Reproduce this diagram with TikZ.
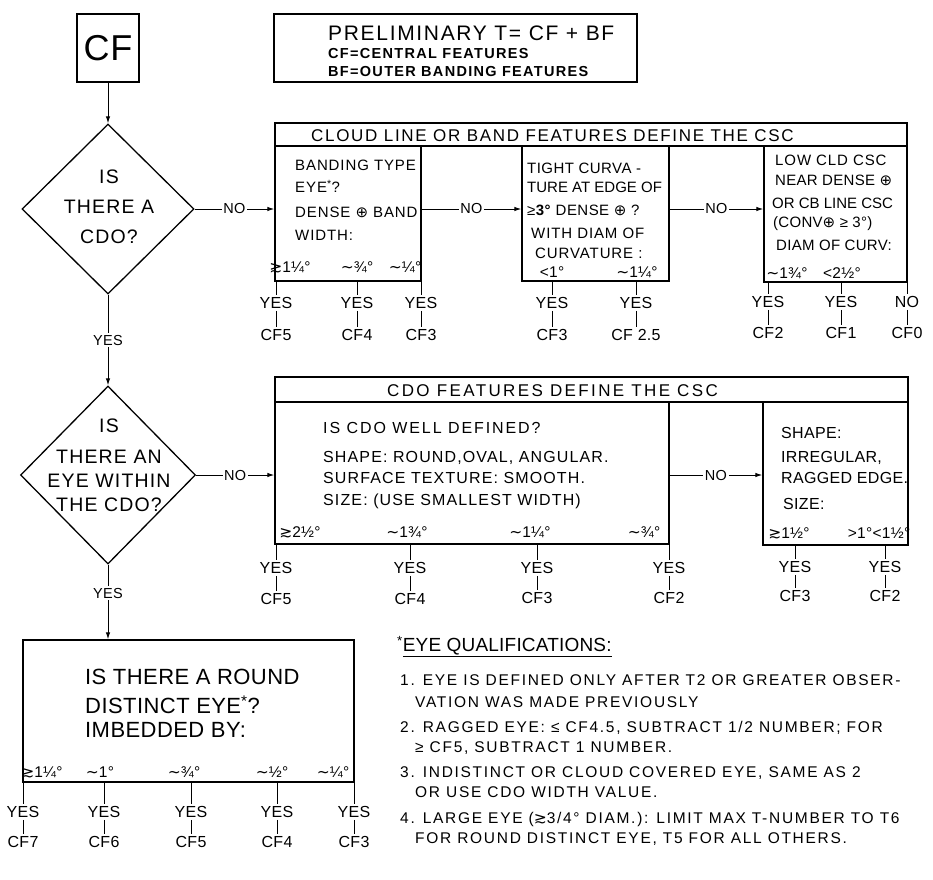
\documentclass[tikz,border=0pt]{standalone}
\usepackage{fontspec}
\setmainfont{Liberation Sans}
\newfontfamily\symf{DejaVu Sans}
\usetikzlibrary{shapes.geometric,arrows.meta}
\newcommand{\opl}{{\symf ⊕}}
\newcommand{\gsm}{{\symf ≳}}
\newcommand{\tld}{{\symf ∼}}
\newcommand{\astk}{\smash{\textsuperscript{*}}}
\newcommand{\fz}[3]{\fontsize{#1}{#2}\selectfont\addfontfeatures{LetterSpace=#3}}
\begin{document}
\begin{tikzpicture}[x=1pt,y=-1pt,
  box/.style={draw,line width=1.3,inner sep=0},
  arr/.style={line width=1,-{Latex[length=7,width=4.5]}},
  thinl/.style={line width=0.9},
  lab/.style={fill=white,inner sep=1.5,font={\fz{14.5}{14.5}{2}}},
  tx/.style={inner sep=0,anchor=west,text depth=0pt},
  ctr/.style={inner sep=0,text depth=0pt},
  bt/.style={tx,font={\fz{15}{15}{6}}},
  lb/.style={ctr,font={\fz{15.5}{15.5}{2}}},
  yn/.style={inner sep=2,text depth=0pt,font={\fz{16}{16}{2}}},
  eq/.style={tx,font={\fz{15.5}{15.5}{11}}},
]
\fill[white] (0,0) rectangle (933,879);
\useasboundingbox (0,0) rectangle (933,879);

% CF start box
\node[box,minimum width=62,minimum height=68,font={\fz{36}{36}{2}}] (cf) at (108,48) {CF};

% preliminary box
\node[box,minimum width=363,minimum height=68] (pre) at (455.5,48) {};
\node[tx,font={\fz{21}{21}{8}}] (pre1) at (328,33) {PRELIMINARY T= CF + BF};
\node[tx,font={\bfseries\fz{14.5}{14.5}{9}}] (pre2) at (328,53) {CF=CENTRAL FEATURES};
\node[tx,font={\bfseries\fz{14.5}{14.5}{9}}] (pre3) at (328,71) {BF=OUTER BANDING FEATURES};

% diamonds
\node[diamond,box,minimum width=172,minimum height=170] (d1) at (108,209) {};
\node[inner sep=0,align=center,font={\fz{19.5}{30}{6}}] (d1t) at (109,207) {IS\\THERE A\\CDO?};
\node[diamond,box,minimum width=175,minimum height=178] (d2) at (108,475) {};
\node[inner sep=0,align=center,font={\fz{19.5}{24}{6}}] (d2t) at (109,465) {IS\\[7pt]THERE AN\\EYE WITHIN\\THE CDO?};

% band features boxes
\node[box,minimum width=632,minimum height=23] (bh) at (591,134.5) {};
\node[tx,font={\fz{17}{17}{10}}] (bht) at (311,136) {CLOUD LINE OR BAND FEATURES DEFINE THE CSC};
\node[box,minimum width=146,minimum height=135] (b1) at (348,213.5) {};
\node[box,minimum width=147,minimum height=135] (b2) at (595.5,213.5) {};
\node[box,minimum width=143,minimum height=136] (b3) at (835.5,214) {};

\node[bt] (b1a) at (295,165) {BANDING TYPE};
\node[bt] (b1b) at (295,187) {EYE\astk?};
\node[bt] (b1c) at (295,212) {DENSE \opl\ BAND};
\node[bt] (b1d) at (295,235) {WIDTH:};
\node[lb] (b1e) at (290,267) {\gsm1¼°};
\node[lb] (b1f) at (357,267) {\tld¾°};
\node[lb] (b1g) at (405,267) {\tld¼°};

\node[bt,font={\fz{15}{15}{3}}] (b2a) at (527,168) {TIGHT CURVA -};
\node[bt,font={\fz{15}{15}{0}}] (b2b) at (527,187) {TURE AT EDGE OF};
\node[bt,font={\fz{15}{15}{3}}] (b2c) at (527,210) {≥\textbf{3°} DENSE \opl\ ?};
\node[bt] (b2d) at (531,233) {WITH DIAM OF};
\node[bt] (b2e) at (535,253) {CURVATURE :};
\node[lb] (b2f) at (552,272) {<1°};
\node[lb] (b2g) at (637,272) {\tld1¼°};

\node[bt] (b3a) at (775,160) {LOW CLD CSC};
\node[bt,font={\fz{15}{15}{2}}] (b3b) at (775,180) {NEAR DENSE \opl};
\node[bt,font={\fz{15}{15}{0}}] (b3c) at (772,203) {OR CB LINE CSC};
\node[bt,font={\fz{15}{15}{2}}] (b3d) at (773,222) {(CONV\opl\ ≥ 3°)};
\node[bt,font={\fz{15}{15}{2}}] (b3e) at (776,245) {DIAM OF CURV:};
\node[lb] (b3f) at (787,273) {\tld1¾°};
\node[lb] (b3g) at (842,273) {<2½°};

% CDO features boxes
\node[box,minimum width=633,minimum height=25] (mh) at (591.5,389.5) {};
\node[tx,font={\fz{17}{17}{14}}] (mht) at (387,391) {CDO FEATURES DEFINE THE CSC};
\node[box,minimum width=394,minimum height=142] (mA) at (472,473) {};
\node[box,minimum width=145,minimum height=143] (mB) at (835.5,473.5) {};

\node[tx,font={\fz{16}{16}{12}}] (mAa) at (323,428) {IS CDO WELL DEFINED?};
\node[tx,font={\fz{16}{16}{7}}] (mAb) at (323,457) {SHAPE: ROUND,OVAL, ANGULAR.};
\node[tx,font={\fz{16}{16}{7}}] (mAc) at (323,478) {SURFACE TEXTURE: SMOOTH.};
\node[tx,font={\fz{16}{16}{7}}] (mAd) at (323,500) {SIZE: (USE SMALLEST WIDTH)};
\node[lb] (mAe) at (300,532) {\gsm2½°};
\node[lb] (mAf) at (407,532) {\tld1¾°};
\node[lb] (mAg) at (530,532) {\tld1¼°};
\node[lb] (mAh) at (644,532) {\tld¾°};

\node[tx,font={\fz{16}{16}{2}}] (mBa) at (781,433) {SHAPE:};
\node[tx,font={\fz{16}{16}{2}}] (mBb) at (781,457) {IRREGULAR,};
\node[tx,font={\fz{16}{16}{2}}] (mBc) at (781,478) {RAGGED EDGE.};
\node[tx,font={\fz{16}{16}{2}}] (mBd) at (783,504) {SIZE:};
\node[lb] (mBe) at (789,533) {\gsm1½°};
\node[lb] (mBf) at (879,533) {>1°<1½°};

% round eye box
\node[box,minimum width=331,minimum height=142] (eb) at (188.5,711) {};
\node[tx,font={\fz{22}{22}{2}}] (eba) at (85,677) {IS THERE A ROUND};
\node[tx,font={\fz{22}{22}{2}}] (ebb) at (85,706) {DISTINCT EYE\astk?};
\node[tx,font={\fz{22}{22}{2}}] (ebc) at (85,730) {IMBEDDED BY:};
\node[lb] (ebd) at (42,772) {\gsm1¼°};
\node[lb] (ebe) at (100,772) {\tld1°};
\node[lb] (ebf) at (184,772) {\tld¾°};
\node[lb] (ebg) at (272,772) {\tld½°};
\node[lb] (ebh) at (333,772) {\tld¼°};

% main flow arrows
\draw[arr] (cf.south) -- (cf.south |- d1.north);
\draw[arr] (d1.south) -- node[lab] (ly1) {YES} (d2.north);
\draw[arr] (d2.south) -- node[lab,pos=0.38] (ly2) {YES} (d2.south |- eb.north);
\draw[arr] (d1.east) -- node[lab] (ln1) {NO} (d1.east -| b1.west);
\draw[arr] (b1.east |- d1.east) -- node[lab] (ln2) {NO} (b2.west |- d1.east);
\draw[arr] (b2.east |- d1.east) -- node[lab] (ln3) {NO} (b3.west |- d1.east);
\draw[arr] (d2.east) -- node[lab] (ln4) {NO} (d2.east -| mA.west);
\draw[arr] (mA.east |- d2.east) -- node[lab] (ln5) {NO} (mB.west |- d2.east);

% outcome stubs
\foreach \nm/\xx/\yy/\yc/\bx/\ans/\cfl in {
  t1/276/303/335/b1/YES/CF5, t2/357/303/335/b1/YES/CF4, t3/421/303/335/b1/YES/CF3,
  t4/552/303/335/b2/YES/CF3, t5/636/303/335/b2/YES/CF 2.5,
  t6/768/302/333/b3/YES/CF2, t7/841/302/333/b3/YES/CF1, t8/907/302/333/b3/NO/CF0,
  m1/276/568/599/mA/YES/CF5, m2/410/568/599/mA/YES/CF4, m3/537/568/598/mA/YES/CF3,
  m4/669/568/598/mA/YES/CF2, m5/795/567/596/mB/YES/CF3, m6/885/567/596/mB/YES/CF2,
  e1/23/812/842/eb/YES/CF7, e2/104/812/842/eb/YES/CF6, e3/191/812/842/eb/YES/CF5,
  e4/277/812/842/eb/YES/CF4, e5/354/812/842/eb/YES/CF3}{
  \node[yn] (y\nm) at (\xx,\yy) {\ans};
  \node[yn] (c\nm) at (\xx,\yc) {\cfl};
  \draw[thinl] (y\nm.north |- \bx.south) -- (y\nm.north);
  \draw[thinl] (y\nm.south) -- (c\nm.north);
}

% eye qualifications
\node[tx,font={\fz{19}{19}{1}}] (eqh) at (397,645) {\astk\underline{EYE QUALIFICATIONS:}};
\node[eq] (eq1) at (400,680) {1. EYE IS DEFINED ONLY AFTER T2 OR GREATER OBSER-};
\node[eq] (eq1b) at (415,702) {VATION WAS MADE PREVIOUSLY};
\node[eq] (eq2) at (400,727) {2. RAGGED EYE: ≤ CF4.5, SUBTRACT 1/2 NUMBER; FOR};
\node[eq] (eq2b) at (415,747) {≥ CF5, SUBTRACT 1 NUMBER.};
\node[eq] (eq3) at (400,772) {3. INDISTINCT OR CLOUD COVERED EYE, SAME AS 2};
\node[eq] (eq3b) at (415,792) {OR USE CDO WIDTH VALUE.};
\node[eq] (eq4) at (400,818) {4. LARGE EYE (\gsm3/4° DIAM.): LIMIT MAX T-NUMBER TO T6};
\node[eq] (eq4b) at (415,838) {FOR ROUND DISTINCT EYE, T5 FOR ALL OTHERS.};
\end{tikzpicture}
\end{document}
